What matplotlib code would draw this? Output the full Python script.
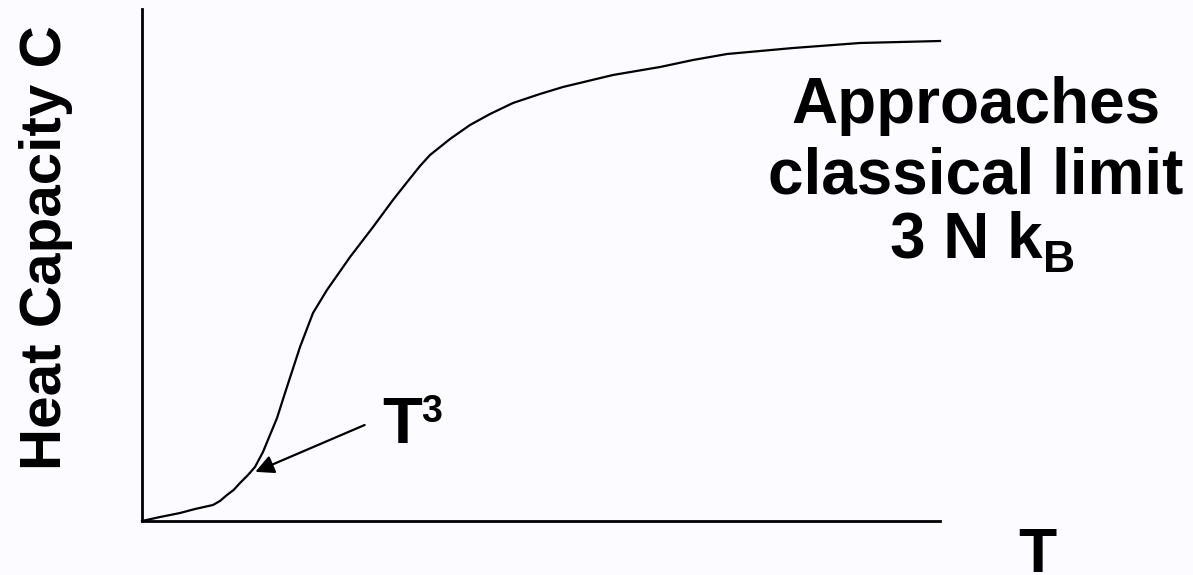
import matplotlib.pyplot as plt

plt.rcParams['font.family'] = ['Liberation Sans', 'DejaVu Sans']

# temperature (arb. units) and heat capacity (arb. units)
T = [0, 2.26, 4.76, 6.64, 8.90, 9.77, 10.65, 11.47, 12.28, 13.28, 14.16,
     15.16, 16.04, 16.92, 17.92, 19.80, 21.43, 23.18, 26.07, 28.95, 31.45,
     33.33, 34.84, 36.09, 38.60, 41.10, 43.61, 46.49, 49.87, 52.76, 59.02,
     64.91, 69.05, 73.31, 81.58, 89.97, 100]
C = [0, 0.78, 1.56, 2.34, 3.13, 3.91, 5.08, 6.05, 7.42, 8.98, 10.55,
     13.48, 16.80, 20.12, 25.00, 33.98, 40.63, 45.12, 51.56, 57.42, 62.70,
     66.41, 69.34, 71.48, 74.61, 77.34, 79.49, 81.64, 83.40, 84.77, 87.11,
     88.67, 90.04, 91.21, 92.38, 93.36, 93.75]

arrow_tip = (14.2, 9.6)
arrow_tail = (27.9, 18.75)

W, H = 1193, 575
bg = '#fcfbff'
fig = plt.figure(figsize=(W / 100, H / 100), dpi=100, facecolor=bg)
ax = fig.add_axes([142 / W, 54 / H, 798 / W, 512 / H])
ax.set_facecolor(bg)


def px(x, y):
    # pixel position (from top-left) -> figure fraction
    return x / W, 1 - y / H


ax.plot(T, C, color='black', lw=1.6, clip_on=False)

ax.set_xlim(0, 100)
ax.set_ylim(0, 100)
for s in ['top', 'right']:
    ax.spines[s].set_visible(False)
for s in ['left', 'bottom']:
    ax.spines[s].set_linewidth(2.0)
ax.set_xticks([])
ax.set_yticks([])

# T^3 arrow
ax.annotate('', xy=arrow_tip, xytext=arrow_tail,
            arrowprops=dict(arrowstyle='-|>', color='black', lw=1.6,
                            mutation_scale=28, shrinkA=0, shrinkB=0))
fig.text(*px(382, 443), 'T', fontsize=47, fontweight='bold',
         ha='left', va='baseline')
fig.text(*px(421, 422), '3', fontsize=27, fontweight='bold',
         ha='left', va='baseline')

# right-hand note
fig.text(*px(976, 123), 'Approaches', fontsize=46, fontweight='bold',
         ha='center', va='baseline')
fig.text(*px(976, 193), 'classical limit', fontsize=46, fontweight='bold',
         ha='center', va='baseline')
fig.text(*px(1042, 257), '3 N k', fontsize=46, fontweight='bold',
         ha='right', va='baseline')
fig.text(*px(1043, 272), 'B', fontsize=32, fontweight='bold',
         ha='left', va='baseline')

fig.text(*px(46, 248), 'Heat Capacity C', fontsize=42,
         fontweight='bold', rotation=90, ha='center', va='center')
fig.text(*px(1037.5, 572), 'T', fontsize=45, fontweight='bold',
         ha='center', va='baseline')

fig.savefig('out.png', dpi=100, facecolor=bg)
